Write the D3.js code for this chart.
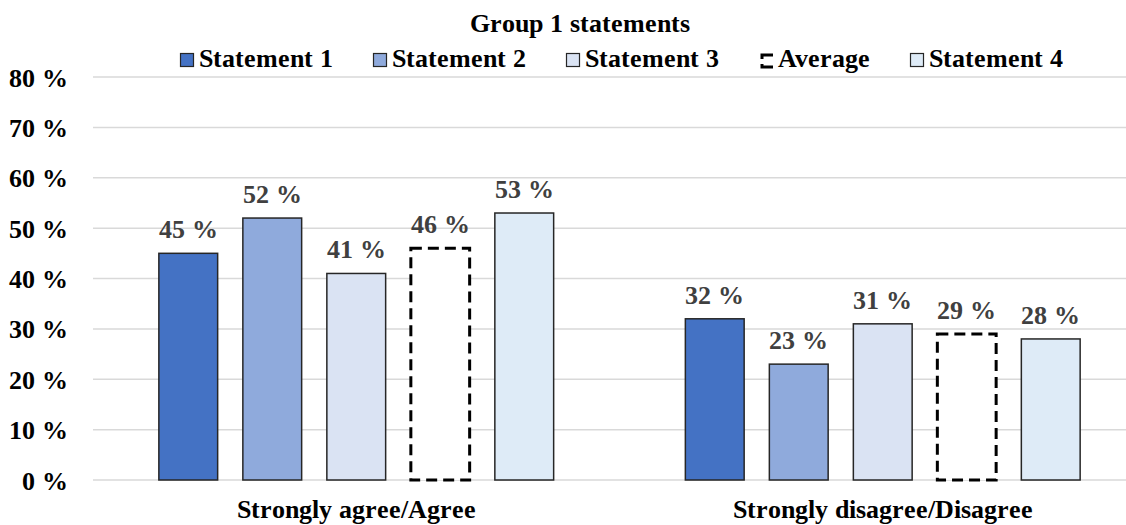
<!DOCTYPE html>
<html>
<head>
<meta charset="utf-8">
<script src="https://cdn.jsdelivr.net/npm/d3@7"></script>
<style>
  @font-face { font-family: "RefSerif"; font-weight: bold; src: local("Liberation Serif Bold"), local("LiberationSerif-Bold"), local("DejaVu Serif Bold"), local("DejaVuSerif-Bold"); }
  html, body { margin: 0; padding: 0; background: #fff; }
  svg, svg text { font-family: "RefSerif", "Liberation Serif", "Times New Roman", Times, "DejaVu Serif", serif; font-weight: bold; }
</style>
</head>
<body>
<svg id="chart" width="1126" height="525"></svg>
<script>
const title = "Group 1 statements";
const categories = ["Strongly agree/Agree", "Strongly disagree/Disagree"];
const seriesNames = ["Statement 1", "Statement 2", "Statement 3", "Average", "Statement 4"];
const statement1 = [45, 32];
const statement2 = [52, 23];
const statement3 = [41, 31];
const average = [46, 29];
const statement4 = [53, 28];
const yTicks = [0, 10, 20, 30, 40, 50, 60, 70, 80];

const seriesValues = [statement1, statement2, statement3, average, statement4];
const colors = { "Statement 1": "#4472C4", "Statement 2": "#8FAADC", "Statement 3": "#DAE3F3", "Average": "#FFFFFF", "Statement 4": "#DEEBF7" };

const svg = d3.select("#chart");
const plotLeft = 93, plotRight = 1126;

const y = d3.scaleLinear().domain([0, 80]).range([480, 77]);
const x0 = d3.scaleBand().domain(categories).range([93, 1146]);
const x1 = d3.scaleBand().domain(seriesNames).range([0, x0.bandwidth()]).paddingInner(0.3).paddingOuter(0.784);

function draw() {
  svg.selectAll("*").remove();

  // gridlines
  svg.append("g").selectAll("line").data(yTicks).join("line")
    .attr("x1", plotLeft).attr("x2", plotRight)
    .attr("y1", d => y(d)).attr("y2", d => y(d))
    .attr("stroke", "#d9d9d9").attr("stroke-width", 1.5);

  // y axis labels
  const yAxis = d3.axisLeft(y).tickValues(yTicks).tickSize(0).tickPadding(0).tickFormat(d => d + " %");
  const yg = svg.append("g").attr("transform", "translate(68,0)").call(yAxis);
  yg.attr("font-family", null).attr("font-size", null);
  yg.select(".domain").remove();
  yg.selectAll("text").attr("font-size", 26).attr("fill", "#000").attr("dy", "0.35em");

  // bars
  const data = [];
  categories.forEach((c, ci) => seriesNames.forEach((s, si) => data.push({ cat: c, series: s, value: seriesValues[si][ci] })));

  svg.append("g").selectAll("rect").data(data).join("rect")
    .attr("x", d => x0(d.cat) + x1(d.series))
    .attr("y", d => y(d.value))
    .attr("width", x1.bandwidth())
    .attr("height", d => y(0) - y(d.value))
    .attr("fill", d => colors[d.series])
    .attr("stroke", d => d.series === "Average" ? "#000" : "#262626")
    .attr("stroke-width", d => d.series === "Average" ? 3 : 1.5)
    .attr("stroke-dasharray", d => d.series === "Average" ? "11,6" : null);

  // value labels
  svg.append("g").selectAll("text").data(data).join("text")
    .attr("x", d => x0(d.cat) + x1(d.series) + x1.bandwidth() / 2)
    .attr("y", d => y(d.value) - 15)
    .attr("text-anchor", "middle")
    .attr("font-size", 26)
    .attr("fill", "#404040")
    .text(d => d.value + " %");

  // category labels
  const xAxis = d3.axisBottom(x0).tickSize(0).tickPadding(0);
  const xg = svg.append("g").attr("transform", "translate(0,518)").call(xAxis);
  xg.attr("font-family", null).attr("font-size", null);
  xg.select(".domain").remove();
  xg.selectAll("text").attr("font-size", 26).attr("fill", "#000").attr("dy", 0);

  // title
  svg.append("text").attr("x", 580).attr("y", 32).attr("text-anchor", "middle")
    .attr("font-size", 26).attr("fill", "#000").text(title);

  // legend
  const legend = svg.append("g");
  let lx = 180;
  seriesNames.forEach((s) => {
    const g = legend.append("g").attr("transform", `translate(${lx},0)`);
    if (s === "Average") {
      g.append("path").attr("d", "M14,55 L3,55 L3,59 M3,64 L3,67 L14,67")
        .attr("fill", "none").attr("stroke", "#000").attr("stroke-width", 3);
    } else {
      g.append("rect").attr("x", 0.5).attr("y", 53.5).attr("width", 13).attr("height", 13)
        .attr("fill", colors[s]).attr("stroke", "#262626").attr("stroke-width", 1.2);
    }
    const t = g.append("text").attr("x", 19).attr("y", 67).attr("font-size", 26).attr("fill", "#000").text(s);
    lx += 19 + t.node().getComputedTextLength() + 40;
  });
}

draw();
if (document.fonts && document.fonts.ready) document.fonts.ready.then(draw);
</script>
</body>
</html>
